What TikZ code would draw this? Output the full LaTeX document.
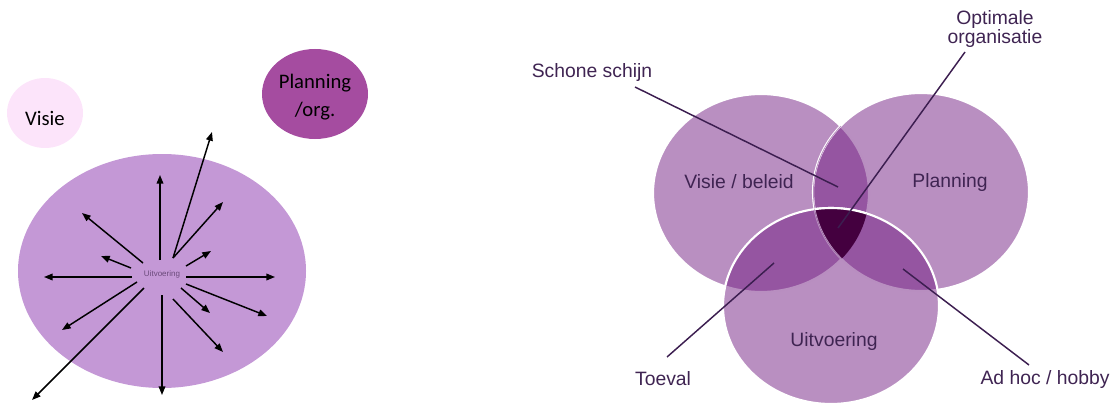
\documentclass[tikz,border=0pt]{standalone}
\usepackage{fontspec}
\setmainfont{Liberation Sans}
\newfontfamily\calfont{Carlito}
\usetikzlibrary{arrows.meta}
\definecolor{visiepink}{HTML}{FCE4FA}
\definecolor{planorg}{HTML}{A54CA0}
\definecolor{bigell}{HTML}{C498D6}
\definecolor{vennbase}{HTML}{701A80}
\definecolor{venndark}{HTML}{44003F}
\definecolor{vennlight}{HTML}{B98FC1}
\definecolor{vtext}{HTML}{3F2452}
\definecolor{vline}{HTML}{3C1E50}
\definecolor{smalltext}{HTML}{6A4A7A}
\tikzset{
  arr/.style={-{Triangle[length=6.5pt,width=5pt]}, line width=1.1pt, black},
  vcirc/.style={fill=vennbase, fill opacity=0.49, draw=white, draw opacity=1, line width=1.6pt},
  vlab/.style={text=vtext, font=\fontsize{14.5}{16}\selectfont, inner sep=0pt},
  pointer/.style={draw=vline, line width=1.1pt},
  leftlab/.style={text=black, font=\calfont\fontsize{15.5}{20}\selectfont, align=center, inner sep=0pt}
}
\begin{document}
\begin{tikzpicture}[x=0.75pt,y=-0.75pt]
\useasboundingbox (0,0) rectangle (1112,403);
% ---------- left part ----------
\fill[visiepink] (45,113) ellipse [x radius=38, y radius=35];
\node[leftlab] (visie) at (45,118) {Visie};
\fill[planorg] (315,94) ellipse [x radius=53, y radius=45];
\node[leftlab] (planorg) at (315,97) {Planning\\[1.5pt]/org.};
\fill[bigell] (162,271) ellipse [x radius=144, y radius=117];
\node[text=smalltext, font=\fontsize{6}{7}\selectfont, inner sep=0pt] (uitv) at (162,274) {Uitvoering};
% arrow coordinates
\coordinate (s1) at (160,260); \coordinate (e1) at (160,175);
\coordinate (s2) at (173,258); \coordinate (e2) at (212,132);
\coordinate (s3) at (173,258); \coordinate (e3) at (223,202);
\coordinate (s4) at (186,266); \coordinate (e4) at (211,251);
\coordinate (s5) at (186,277); \coordinate (e5) at (275,277);
\coordinate (s6) at (186,284); \coordinate (e6) at (267,316);
\coordinate (s7) at (181,288); \coordinate (e7) at (210,313);
\coordinate (s8) at (173,299); \coordinate (e8) at (223,352);
\coordinate (s9) at (162,295); \coordinate (e9) at (162,395);
\coordinate (s10) at (144,288); \coordinate (e10) at (32,400);
\coordinate (s11) at (137,282); \coordinate (e11) at (62,330);
\coordinate (s12) at (132,277); \coordinate (e12) at (44,277);
\coordinate (s13) at (131,268); \coordinate (e13) at (101,256);
\coordinate (s14) at (143,263); \coordinate (e14) at (82,213);
\foreach \i in {1,...,14}{\draw[arr] (s\i) -- (e\i);}
% ---------- Venn ----------
\path[vcirc] (761,193) ellipse [x radius=108, y radius=99];
\path[vcirc] (921,192) ellipse [x radius=108, y radius=99];
\path[vcirc] (831,306) ellipse [x radius=108, y radius=98];
\begin{scope}
  \clip (761,193) ellipse [x radius=108, y radius=99];
  \clip (921,192) ellipse [x radius=108, y radius=99];
  \fill[venndark] (831,306) ellipse [x radius=108, y radius=98];
  \draw[vennlight, line width=1.2pt] (921,192) ellipse [x radius=108, y radius=99];
  \draw[white, line width=1.6pt] (831,306) ellipse [x radius=108, y radius=98];
\end{scope}
\node[vlab] (vvisie) at (739,182) {Visie / beleid};
\node[vlab] (vplan) at (950,182) {Planning};
\node[vlab] (vuitv) at (834,341) {Uitvoering};
\node[vlab] (schone) at (592,73) {Schone schijn};
\node[vlab, align=center] (optimal) at (995,29) {Optimale\\[-2pt]organisatie};
\node[vlab] (toeval) at (663,379) {Toeval};
\node[vlab] (adhoc) at (1045,379) {Ad hoc / hobby};
\coordinate (p1a) at (635,87);  \coordinate (p1b) at (838,187);
\coordinate (p2a) at (965,52);  \coordinate (p2b) at (838,228);
\coordinate (p3a) at (667,357); \coordinate (p3b) at (774,263);
\coordinate (p4a) at (1029,365);\coordinate (p4b) at (903,269);
\draw[pointer] (p1a) -- (p1b);
\draw[pointer] (p2a) -- (p2b);
\draw[pointer] (p3a) -- (p3b);
\draw[pointer] (p4a) -- (p4b);
\end{tikzpicture}
\end{document}
